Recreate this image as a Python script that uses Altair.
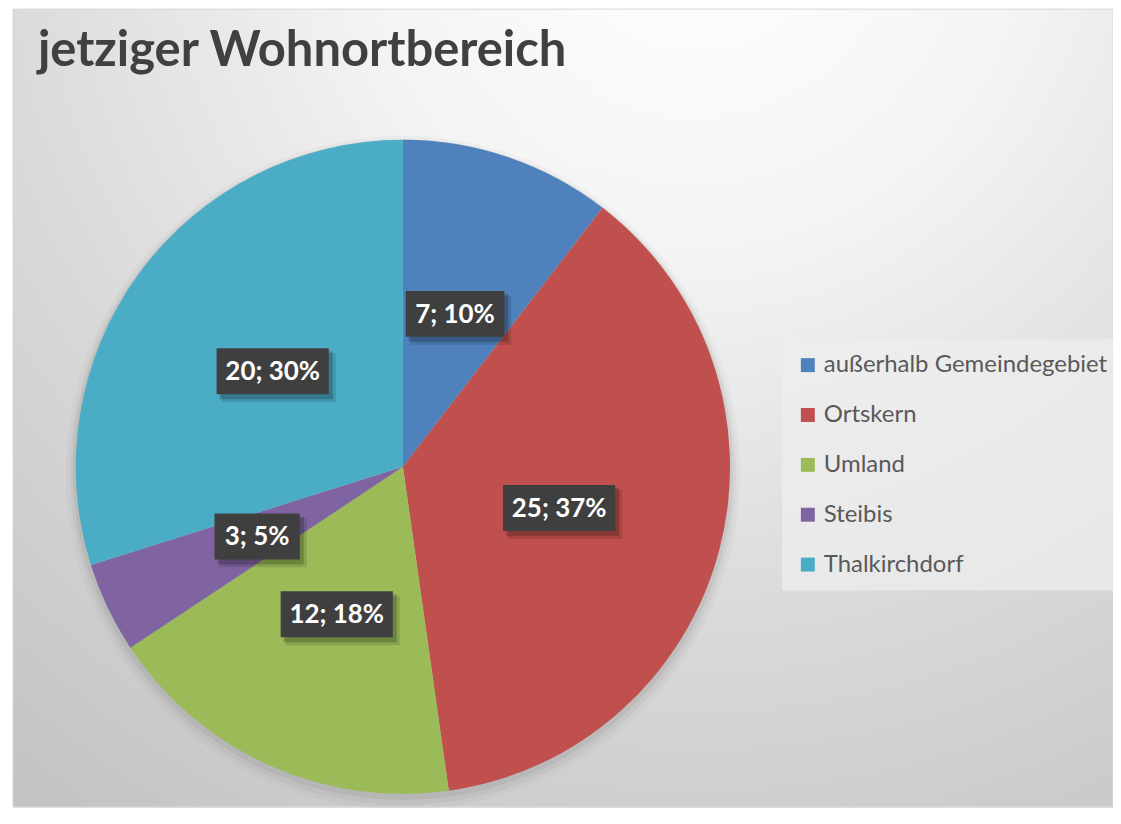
import altair as alt
import pandas as pd

# ---- data ----
categories = ["außerhalb Gemeindegebiet", "Ortskern", "Umland", "Steibis", "Thalkirchdorf"]
counts = [7, 25, 12, 3, 20]
percents = [10, 37, 18, 5, 30]
colors = ["#4F81BD", "#C0504D", "#9BBB59", "#8064A2", "#4BACC6"]
title_text = "jetziger Wohnortbereich"

df = pd.DataFrame({
    "cat": categories,
    "count": counts,
    "pct": percents,
    "idx": list(range(len(categories))),
})

W, H = 1103, 800
CX, CY, R = 391, 459, 328
LR = 162
FONT = "Lato"

bg_gradient = {
    "gradient": "radial",
    "x1": 0.62, "y1": 0.05, "r1": 0,
    "x2": 0.62, "y2": 0.05, "r2": 1.0,
    "stops": [
        {"offset": 0, "color": "#ffffff"},
        {"offset": 0.3, "color": "#f4f4f4"},
        {"offset": 0.65, "color": "#d9d9d9"},
        {"offset": 1, "color": "#c3c3c3"},
    ],
}

one = pd.DataFrame({"k": [0]})

background = alt.Chart(one).mark_rect(stroke="#d9d9d9", strokeWidth=1).encode(
    x=alt.value(0), x2=alt.value(W), y=alt.value(0), y2=alt.value(H),
    color=alt.value(bg_gradient),
)

base = alt.Chart(df)

def shadow(r, dy, op):
    return base.mark_arc(color="black", opacity=op, strokeWidth=0).encode(
        theta=alt.Theta("count:Q", stack=True),
        order=alt.Order("idx:Q"),
        x=alt.value(CX), y=alt.value(CY + dy), radius=alt.value(r),
    )

shadows = [shadow(R + 10, 6, 0.025), shadow(R + 6, 5, 0.035), shadow(R + 3, 3, 0.05)]

pie = base.mark_arc(strokeWidth=0).encode(
    theta=alt.Theta("count:Q", stack=True),
    order=alt.Order("idx:Q"),
    color=alt.Color(
        "cat:N",
        scale=alt.Scale(domain=categories, range=colors),
        legend=alt.Legend(
            title=None, orient="none", legendX=771, legendY=331,
            fillColor="rgba(238,238,238,0.75)", padding=14,
            symbolType="square", symbolSize=196, symbolStrokeWidth=0,
            labelFont=FONT, labelFontSize=24, labelColor="#595959",
            rowPadding=26, labelOffset=4, labelLimit=400,
        ),
    ),
    x=alt.value(CX), y=alt.value(CY), radius=alt.value(R),
)

lab = base.transform_window(
    cum="sum(count)", sort=[alt.SortField("idx")], frame=[None, 0]
).transform_joinaggregate(
    total="sum(count)"
).transform_calculate(
    mid="(datum.cum - datum.count/2) / datum.total * 2 * PI",
    label="datum.count + '; ' + datum.pct + '%'",
).transform_calculate(
    px=f"{CX} + {LR} * sin(datum.mid)",
    py=f"{CY} - {LR} * cos(datum.mid)",
    w="length(datum.label) * 13.5 + 18",
).transform_calculate(
    bx1="datum.px - datum.w/2", bx2="datum.px + datum.w/2",
    by1="datum.py - 23", by2="datum.py + 23",
)

box_shadow2 = lab.transform_calculate(
    sx1="datum.bx1 + 5", sx2="datum.bx2 + 7", sy1="datum.by1 + 5", sy2="datum.by2 + 8"
).mark_rect(color="black", opacity=0.12).encode(
    x=alt.X("sx1:Q", scale=None, axis=None), x2="sx2:Q",
    y=alt.Y("sy1:Q", scale=None, axis=None), y2="sy2:Q",
)
box_shadow = lab.transform_calculate(
    sx1="datum.bx1 + 3", sx2="datum.bx2 + 4", sy1="datum.by1 + 3", sy2="datum.by2 + 5"
).mark_rect(color="black", opacity=0.2).encode(
    x=alt.X("sx1:Q", scale=None, axis=None), x2="sx2:Q",
    y=alt.Y("sy1:Q", scale=None, axis=None), y2="sy2:Q",
)
boxes = lab.mark_rect(color="#3f3f3f").encode(
    x=alt.X("bx1:Q", scale=None, axis=None), x2="bx2:Q",
    y=alt.Y("by1:Q", scale=None, axis=None), y2="by2:Q",
)
texts = lab.mark_text(
    font=FONT, fontSize=26, fontWeight="bold", color="white",
    align="center", baseline="middle", dy=1,
).encode(
    x=alt.X("px:Q", scale=None, axis=None),
    y=alt.Y("py:Q", scale=None, axis=None),
    text="label:N",
)

title = alt.Chart(pd.DataFrame({"t": [title_text]})).mark_text(
    font=FONT, fontSize=49, fontWeight="bold", color="#404040",
    align="left", baseline="alphabetic",
).encode(x=alt.value(25), y=alt.value(57), text="t:N")

chart = alt.layer(
    background, *shadows, pie, box_shadow2, box_shadow, boxes, texts, title
).properties(
    width=W, height=H, autosize="none",
    padding={"left": 5, "top": 0, "right": 0, "bottom": 0},
).configure_view(stroke=None).configure(background="white")

chart.save("out.html", embed_options={"renderer": "svg", "actions": False})
